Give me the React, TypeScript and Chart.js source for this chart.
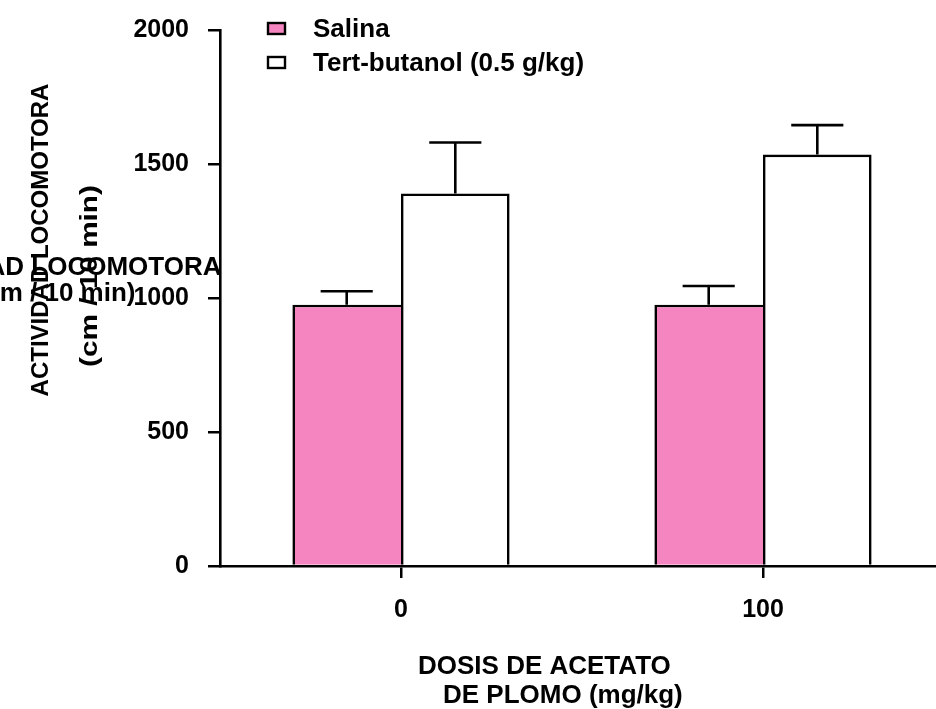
import { useEffect, useRef } from 'react';
import { Chart, registerables } from 'chart.js';

Chart.register(...registerables);

// Lead acetate dose groups (mg/kg)
const doseLabels = ['0', '100'];

// Locomotor activity, mean and SEM (cm / 10 min)
const salinaMeans = [975, 975];
const salinaSem = [50, 70];
const tertMeans = [1390, 1535];
const tertSem = [190, 110];

const yTickValues = [0, 500, 1000, 1500, 2000];

const seriesNames = ['Salina', 'Tert-butanol (0.5 g/kg)'];
const yTitleLines = ['ACTIVIDAD LOCOMOTORA', '(cm / 10 min)'];
const xTitleLines = ['DOSIS DE ACETATO', 'DE PLOMO (mg/kg)'];

const FONT = '"Liberation Sans", Arial, Helvetica, sans-serif';
const PINK = '#f585c0';
const LINE = 2.6;

// Upward SEM whiskers on each bar
const errorBars = {
  id: 'errorBars',
  afterDatasetsDraw(chart: any) {
    const { ctx } = chart;
    const y = chart.scales.y;
    chart.data.datasets.forEach((ds: any, di: number) => {
      const meta = chart.getDatasetMeta(di);
      meta.data.forEach((bar: any, i: number) => {
        const top = y.getPixelForValue(ds.data[i]);
        const end = y.getPixelForValue(ds.data[i] + ds.sem[i]);
        const half = bar.width * 0.24;
        ctx.save();
        ctx.strokeStyle = '#000';
        ctx.lineWidth = LINE;
        ctx.beginPath();
        ctx.moveTo(bar.x, top);
        ctx.lineTo(bar.x, end);
        ctx.moveTo(bar.x - half, end);
        ctx.lineTo(bar.x + half, end);
        ctx.stroke();
        ctx.restore();
      });
    });
  },
};

// Legend boxes in the upper left of the plot
const sideLegend = {
  id: 'sideLegend',
  afterDraw(chart: any) {
    const { ctx, chartArea } = chart;
    const x0 = chartArea.left + 48;
    chart.data.datasets.forEach((ds: any, i: number) => {
      const top = 23 + i * 34;
      ctx.save();
      ctx.fillStyle = ds.backgroundColor;
      ctx.fillRect(x0, top, 17, 11);
      ctx.strokeStyle = '#000';
      ctx.lineWidth = 2.4;
      ctx.strokeRect(x0, top, 17, 11);
      ctx.fillStyle = '#000';
      ctx.font = `bold 26px ${FONT}`;
      ctx.textAlign = 'left';
      ctx.textBaseline = 'alphabetic';
      ctx.fillText(ds.label, x0 + 45, top + 14);
      ctx.restore();
    });
  },
};

// Axis titles: rotated and horizontal copies of the y title, two-line x title
const axisTitles = {
  id: 'axisTitles',
  afterDraw(chart: any) {
    const { ctx } = chart;
    ctx.save();
    ctx.fillStyle = '#000';
    ctx.textBaseline = 'alphabetic';

    // rotated y title
    const rotated = [
      { text: yTitleLines[0], x: 48, y: 240, size: 24, stretch: 1.0 },
      { text: yTitleLines[1], x: 97, y: 276, size: 24, stretch: 1.24 },
    ];
    rotated.forEach((r) => {
      ctx.save();
      ctx.translate(r.x, r.y);
      ctx.rotate(-Math.PI / 2);
      ctx.scale(r.stretch, 1);
      ctx.font = `bold ${r.size}px ${FONT}`;
      ctx.textAlign = 'center';
      ctx.fillText(r.text, 0, 0);
      ctx.restore();
    });

    // horizontal y title
    ctx.font = `bold 26px ${FONT}`;
    ctx.textAlign = 'center';
    ctx.fillText(yTitleLines[0], 52, 275);
    ctx.fillText(yTitleLines[1], 56, 301);

    // x title
    ctx.textAlign = 'left';
    ctx.fillText(xTitleLines[0], 418, 674);
    ctx.fillText(xTitleLines[1], 443, 703);
    ctx.restore();
  },
};

export default function App() {
  const canvasRef = useRef<HTMLCanvasElement | null>(null);

  useEffect(() => {
    const canvas = canvasRef.current;
    if (!canvas) return;
    const tickFont = { family: FONT, size: 25, weight: 'bold' as const };

    const chart = new Chart(canvas, {
      type: 'bar',
      data: {
        labels: doseLabels,
        datasets: [
          {
            label: seriesNames[0],
            data: salinaMeans,
            sem: salinaSem,
            backgroundColor: PINK,
            borderColor: '#000',
            // right edge is shared with the neighbouring bar's left edge
            borderWidth: { top: LINE, left: LINE, right: 0, bottom: 0 },
            borderSkipped: false,
            categoryPercentage: 0.6,
            barPercentage: 1.0,
          } as any,
          {
            label: seriesNames[1],
            data: tertMeans,
            sem: tertSem,
            backgroundColor: '#ffffff',
            borderColor: '#000',
            borderWidth: { top: LINE, left: LINE, right: LINE, bottom: 0 },
            borderSkipped: false,
            categoryPercentage: 0.6,
            barPercentage: 1.0,
          } as any,
        ],
      },
      options: {
        animation: false,
        responsive: false,
        maintainAspectRatio: false,
        devicePixelRatio: 1,
        layout: { padding: { top: 30, left: 0, right: 0, bottom: 0 } },
        plugins: {
          legend: { display: false },
          tooltip: { enabled: false },
        },
        scales: {
          x: {
            type: 'category',
            offset: true,
            grid: {
              offset: false,
              drawOnChartArea: false,
              drawTicks: true,
              tickLength: 12,
              color: '#000',
              lineWidth: 2.5,
            },
            border: { display: true, color: '#000', width: LINE },
            ticks: { color: '#000', font: tickFont, padding: 17, maxRotation: 0 },
            afterFit: (s: any) => {
              s.height = 143;
            },
          },
          y: {
            min: 0,
            max: 2000,
            afterBuildTicks: (s: any) => {
              s.ticks = yTickValues.map((v) => ({ value: v }));
            },
            grid: {
              drawOnChartArea: false,
              drawTicks: true,
              tickLength: 12,
              color: '#000',
              lineWidth: 2.5,
            },
            border: { display: true, color: '#000', width: LINE },
            ticks: {
              color: '#000',
              font: tickFont,
              padding: 19,
              callback: (v: any) => String(v),
            },
            afterFit: (s: any) => {
              s.width = 220;
              s.paddingTop = 0;
              s.paddingBottom = 0;
            },
          },
        },
      },
      plugins: [errorBars, sideLegend, axisTitles],
    });

    return () => chart.destroy();
  }, []);

  return (
    <div
      style={{
        position: 'fixed',
        left: 0,
        top: 0,
        width: 936,
        height: 709,
        overflow: 'hidden',
        background: '#fff',
      }}
    >
      <canvas ref={canvasRef} width={944} height={709} style={{ display: 'block' }} />
    </div>
  );
}
